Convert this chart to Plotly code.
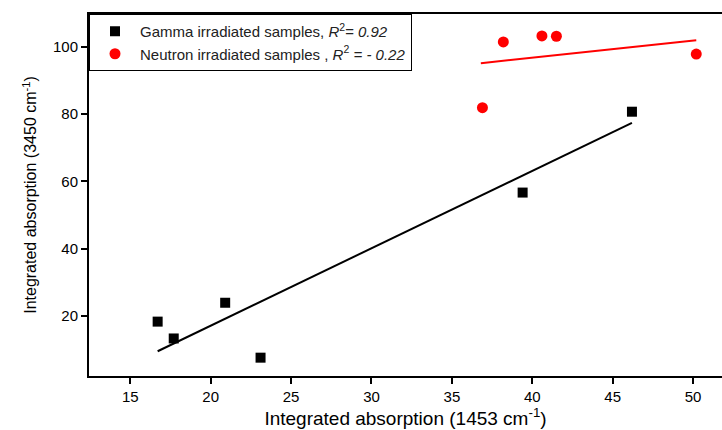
import plotly.graph_objects as go

gamma_x = [16.7, 17.7, 20.9, 23.1, 39.4, 46.2]
gamma_y = [18.4, 13.4, 24.0, 7.7, 56.7, 80.7]
neutron_x = [36.9, 38.2, 40.6, 41.5, 50.2]
neutron_y = [81.9, 101.4, 103.2, 103.1, 97.8]
gamma_fit_x = [16.7, 46.2]
gamma_fit_y = [9.6, 77.4]
neutron_fit_x = [36.8, 50.2]
neutron_fit_y = [95.1, 101.9]

x_ticks = [15, 20, 25, 30, 35, 40, 45, 50]
y_ticks = [20, 40, 60, 80, 100]

FONT = "Liberation Sans, Arial, sans-serif"

fig = go.Figure()
fig.add_trace(go.Scatter(x=gamma_fit_x, y=gamma_fit_y, mode="lines",
                         line=dict(color="black", width=2), showlegend=False, hoverinfo="skip"))
fig.add_trace(go.Scatter(x=neutron_fit_x, y=neutron_fit_y, mode="lines",
                         line=dict(color="red", width=2), showlegend=False, hoverinfo="skip"))
fig.add_trace(go.Scatter(x=gamma_x, y=gamma_y, mode="markers",
                         marker=dict(symbol="square", size=10, color="black"),
                         name="Gamma irradiated samples, <i>R</i><sup>2</sup><i>= 0.92</i>"))
fig.add_trace(go.Scatter(x=neutron_x, y=neutron_y, mode="markers",
                         marker=dict(symbol="circle", size=11, color="red"),
                         name="Neutron irradiated samples , <i>R</i><sup>2</sup><i> = - 0.22</i>"))

fig.update_layout(
    width=722, height=430,
    margin=dict(l=89, r=0, t=14, b=54),
    paper_bgcolor="white", plot_bgcolor="white",
    font=dict(family=FONT, color="black"),
    legend=dict(x=0, y=1, xanchor="left", yanchor="top",
                bordercolor="black", borderwidth=1, bgcolor="white",
                font=dict(size=15, family=FONT, color="#222"),
                itemwidth=40, tracegroupgap=0),
    xaxis=dict(range=[12.43, 51.8], tickvals=x_ticks, showgrid=False, zeroline=False,
               showline=True, linecolor="black", linewidth=2, mirror=True,
               ticks="outside", ticklen=6, tickwidth=2, tickcolor="black",
               tickfont=dict(size=15, family=FONT),
               title=dict(text="Integrated absorption (1453 cm<sup>-1</sup>)",
                          font=dict(size=19, family=FONT), standoff=6)),
    yaxis=dict(range=[2.26, 109.7], tickvals=y_ticks, showgrid=False, zeroline=False,
               showline=True, linecolor="black", linewidth=2,
               ticks="outside", ticklen=6, tickwidth=2, tickcolor="black",
               tickfont=dict(size=15, family=FONT),
               title=dict(text="Integrated absorption (3450 cm<sup>-1</sup>)",
                          font=dict(size=16, family=FONT), standoff=12)),
)

fig.write_html("out.html")
